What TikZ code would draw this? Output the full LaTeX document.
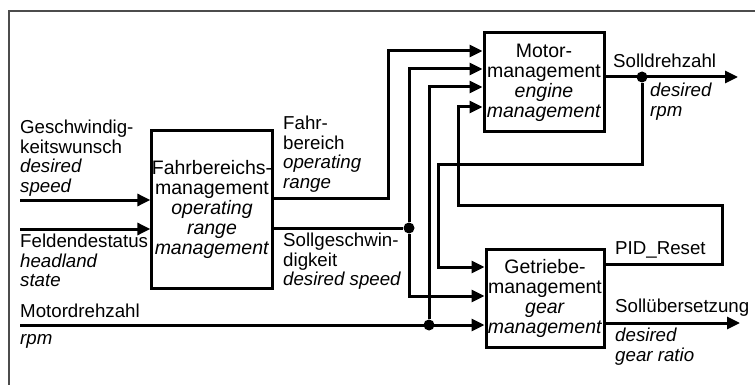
\documentclass[tikz,border=0pt]{standalone}
\usepackage{fontspec}
\setmainfont{Liberation Sans}
\usetikzlibrary{arrows.meta}

\tikzset{
  blk/.style={draw, line width=3pt, inner sep=0pt, align=center,
    font=\fontsize{19.5}{20}\selectfont},
  lbl/.style={anchor=north west, inner sep=0pt, align=left, execute at begin node=\strut},
  wire/.style={line width=3pt},
  sig/.style={wire, -{Triangle[length=13pt,width=12pt]}},
  jdot/.style={circle, fill, inner sep=0pt, minimum size=11pt},
}

\begin{document}
\begin{tikzpicture}[x=1pt, y=-1pt, font=\fontsize{18.7}{19.5}\selectfont]
\useasboundingbox (0,0) rectangle (755,385);
\draw[black!70, line width=1.5pt] (9,385) -- (9,11) -- (755,11);

% blocks
\node[blk, minimum width=118pt, minimum height=157pt] (frb) at (212,209.5)
  {Fahrbereichs-\\management\\\textit{operating}\\\textit{range}\\\textit{management}};
\node[blk, minimum width=120pt, minimum height=99pt] (mot) at (544,82.5)
  {Motor-\\management\\\textit{engine}\\\textit{management}};
\node[blk, minimum width=118pt, minimum height=98pt] (get) at (545,298)
  {Getriebe-\\management\\\textit{gear}\\\textit{management}};

% block inputs
\foreach \y [count=\i] in {51,69,87,107}
  \coordinate (m\i) at (mot.west |- 0,\y);
\foreach \y [count=\i] in {267,296,325}
  \coordinate (g\i) at (get.west |- 0,\y);

% inputs from the left
\coordinate (sw) at (20,200);
\coordinate (hs) at (20,229);
\coordinate (md) at (20,325);
\draw[sig] (sw) -- (sw -| frb.west);
\draw[sig] (hs) -- (hs -| frb.west);
\draw[sig] (md) -- (g3);

% operating range
\coordinate (jr) at (388,198);
\draw[sig] (frb.east |- jr) -- (jr) |- (m1);

% desired speed
\node[jdot] (dv) at (409,228) {};
\draw[wire] (frb.east |- dv) -- (dv);
\draw[sig] (dv) |- (m2);
\draw[sig] (dv) |- (g2);

% rpm
\node[jdot] (dn) at (429,325) {};
\draw[sig] (dn) |- (m3);

% desired rpm
\node[jdot] (dr) at (642,77) {};
\coordinate (rpmend) at (738,77);
\coordinate (fb) at (438,165);
\draw[sig] (mot.east |- dr) -- (rpmend);
\draw[sig] (dr) |- (fb) |- (g1);

% PID reset
\coordinate (pr) at (722,205);
\coordinate (pl) at (458,205);
\draw[sig] (get.east |- 0,264) -| (pr) -- (pl) |- (m4);

% desired gear ratio
\coordinate (grend) at (740,323);
\draw[sig] (get.east |- grend) -- (grend);

% labels
\node[lbl] (gwl) at (20,120) {Geschwindig-\\keitswunsch\\\textit{desired}\\\textit{speed}};
\node[lbl] (fsl) at (20,234) {Feldendestatus\\\textit{headland}\\\textit{state}};
\node[lbl] (mdl) at (20,304) {Motordrehzahl};
\node[lbl] (rpml) at (20,331) {\textit{rpm}};
\node[lbl] (frl) at (283,116) {Fahr-\\bereich\\\textit{operating}\\\textit{range}};
\node[lbl] (sgl) at (283,233) {Sollgeschwin-\\digkeit\\\textit{desired speed}};
\node[lbl] (sdl) at (613,54) {Solldrehzahl};
\node[lbl] (drl) at (650,83) {\textit{desired}\\\textit{rpm}};
\node[lbl] (pidl) at (615,241) {PID\_Reset};
\node[lbl] (sul) at (615,299) {Sollübersetzung};
\node[lbl] (dgl) at (615,328) {\textit{desired}\\\textit{gear ratio}};
\end{tikzpicture}
\end{document}
